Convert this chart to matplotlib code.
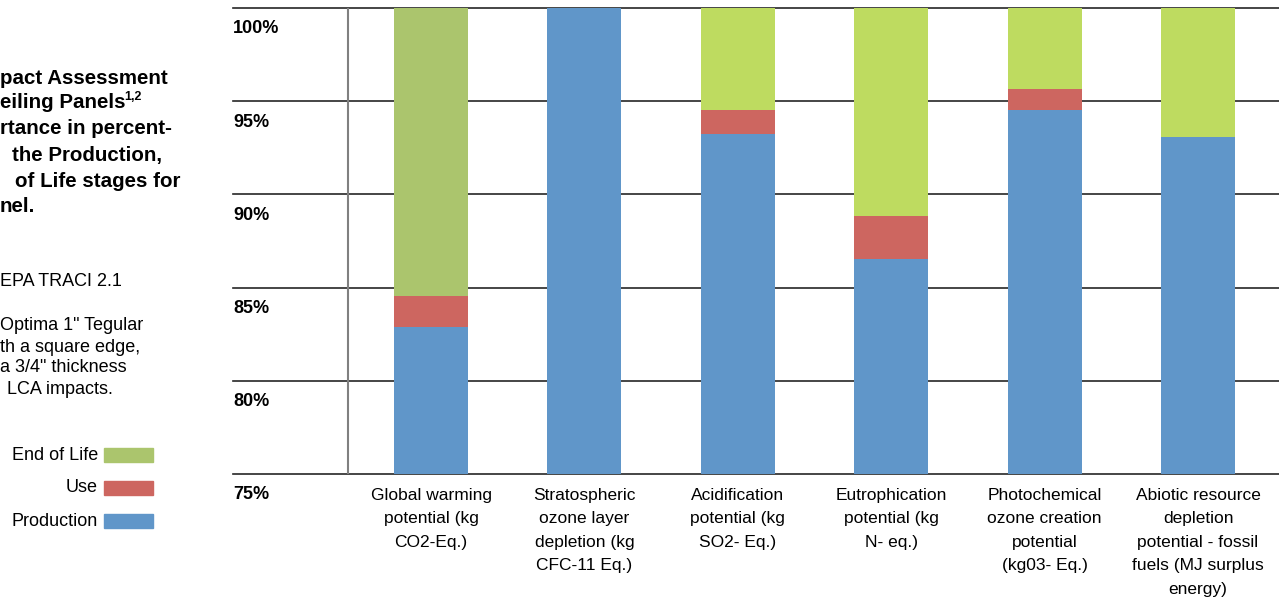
import numpy as np
import matplotlib
matplotlib.use("Agg")
import matplotlib.pyplot as plt
from matplotlib.patches import Rectangle

plt.rcParams["font.family"] = ["Liberation Sans", "DejaVu Sans"]

# values (% of total impact)
categories = [
    "Global warming\npotential (kg\nCO2-Eq.)",
    "Stratospheric\nozone layer\ndepletion (kg\nCFC-11 Eq.)",
    "Acidification\npotential (kg\nSO2- Eq.)",
    "Eutrophication\npotential (kg\nN- eq.)",
    "Photochemical\nozone creation\npotential\n(kg03- Eq.)",
    "Abiotic resource\ndepletion\npotential - fossil\nfuels (MJ surplus\nenergy)",
]
production = [82.86, 100.0, 93.23, 86.52, 94.54, 93.09]
use = [1.70, 0.0, 1.29, 2.32, 1.11, 0.0]
end_of_life = [100 - p - u for p, u in zip(production, use)]
yticks = [75, 80, 85, 90, 95, 100]
ytick_labels = ["75%", "80%", "85%", "90%", "95%", "100%"]

blue = "#6096C9"
red = "#CD6660"
green_first = "#ABC56D"
green = "#BEDB60"
eol_colors = [green_first] + [green] * 5

W, H = 1279, 600
fig = plt.figure(figsize=(W / 100, H / 100), dpi=100)
ax = fig.add_axes([233 / W, 1 - 474 / H, 1046 / W, 466 / H])

x = np.arange(len(categories))
bw = 0.482
ax.bar(x, production, bw, color=blue, zorder=3)
ax.bar(x, use, bw, bottom=production, color=red, zorder=3)
ax.bar(x, end_of_life, bw, bottom=np.add(production, use), color=eol_colors, zorder=3)

ax.set_xlim(-1.291, 5.528)
ax.set_ylim(75, 100)
for v in yticks:
    ax.axhline(v, color="#262626", lw=1.2, zorder=1, clip_on=False)
ax.axvline(-0.541, color="#808080", lw=1.5, zorder=2)

for s in ax.spines.values():
    s.set_visible(False)
ax.set_xticks([])
ax.set_yticks([])

for v, lab in zip(yticks, ytick_labels):
    ax.text(-1.291, v - 1.12, lab, ha="left", va="center", fontsize=13,
            fontweight="bold", clip_on=False)

for i, lab in enumerate(categories):
    ax.text(i, 74.25, lab, ha="center", va="top", fontsize=12.5,
            linespacing=1.7, clip_on=False)

# left-hand description (cut off in the original)
def px(xp, yp):
    return xp / W, 1 - yp / H

title_lines = [
    (0, 78, "pact Assessment"),
    (0, 103, "eiling Panels"),
    (0, 129, "rtance in percent-"),
    (12, 155, "the Production,"),
    (15, 181, "of Life stages for"),
    (0, 207, "nel."),
]
for xp, yp, t in title_lines:
    fig.text(*px(xp, yp), t, ha="left", va="center", fontsize=14.8, fontweight="bold")
fig.text(*px(124, 97), "1,2", ha="left", va="center", fontsize=9, fontweight="bold")

body_lines = [
    (0, 282, "EPA TRACI 2.1"),
    (0, 325, "Optima 1\" Tegular"),
    (0, 347, "th a square edge,"),
    (0, 368, "a 3/4\" thickness"),
    (7, 389, "LCA impacts."),
]
for xp, yp, t in body_lines:
    fig.text(*px(xp, yp), t, ha="left", va="center", fontsize=13)

legend_items = [("End of Life", green_first, 455), ("Use", red, 488), ("Production", blue, 521)]
for name, col, yp in legend_items:
    fig.text(*px(98, yp), name, ha="right", va="center", fontsize=13)
    fig.patches.append(Rectangle(px(104, yp + 7), 49 / W, 14 / H, color=col,
                                 transform=fig.transFigure, figure=fig))

fig.savefig("out.png", dpi=100)
